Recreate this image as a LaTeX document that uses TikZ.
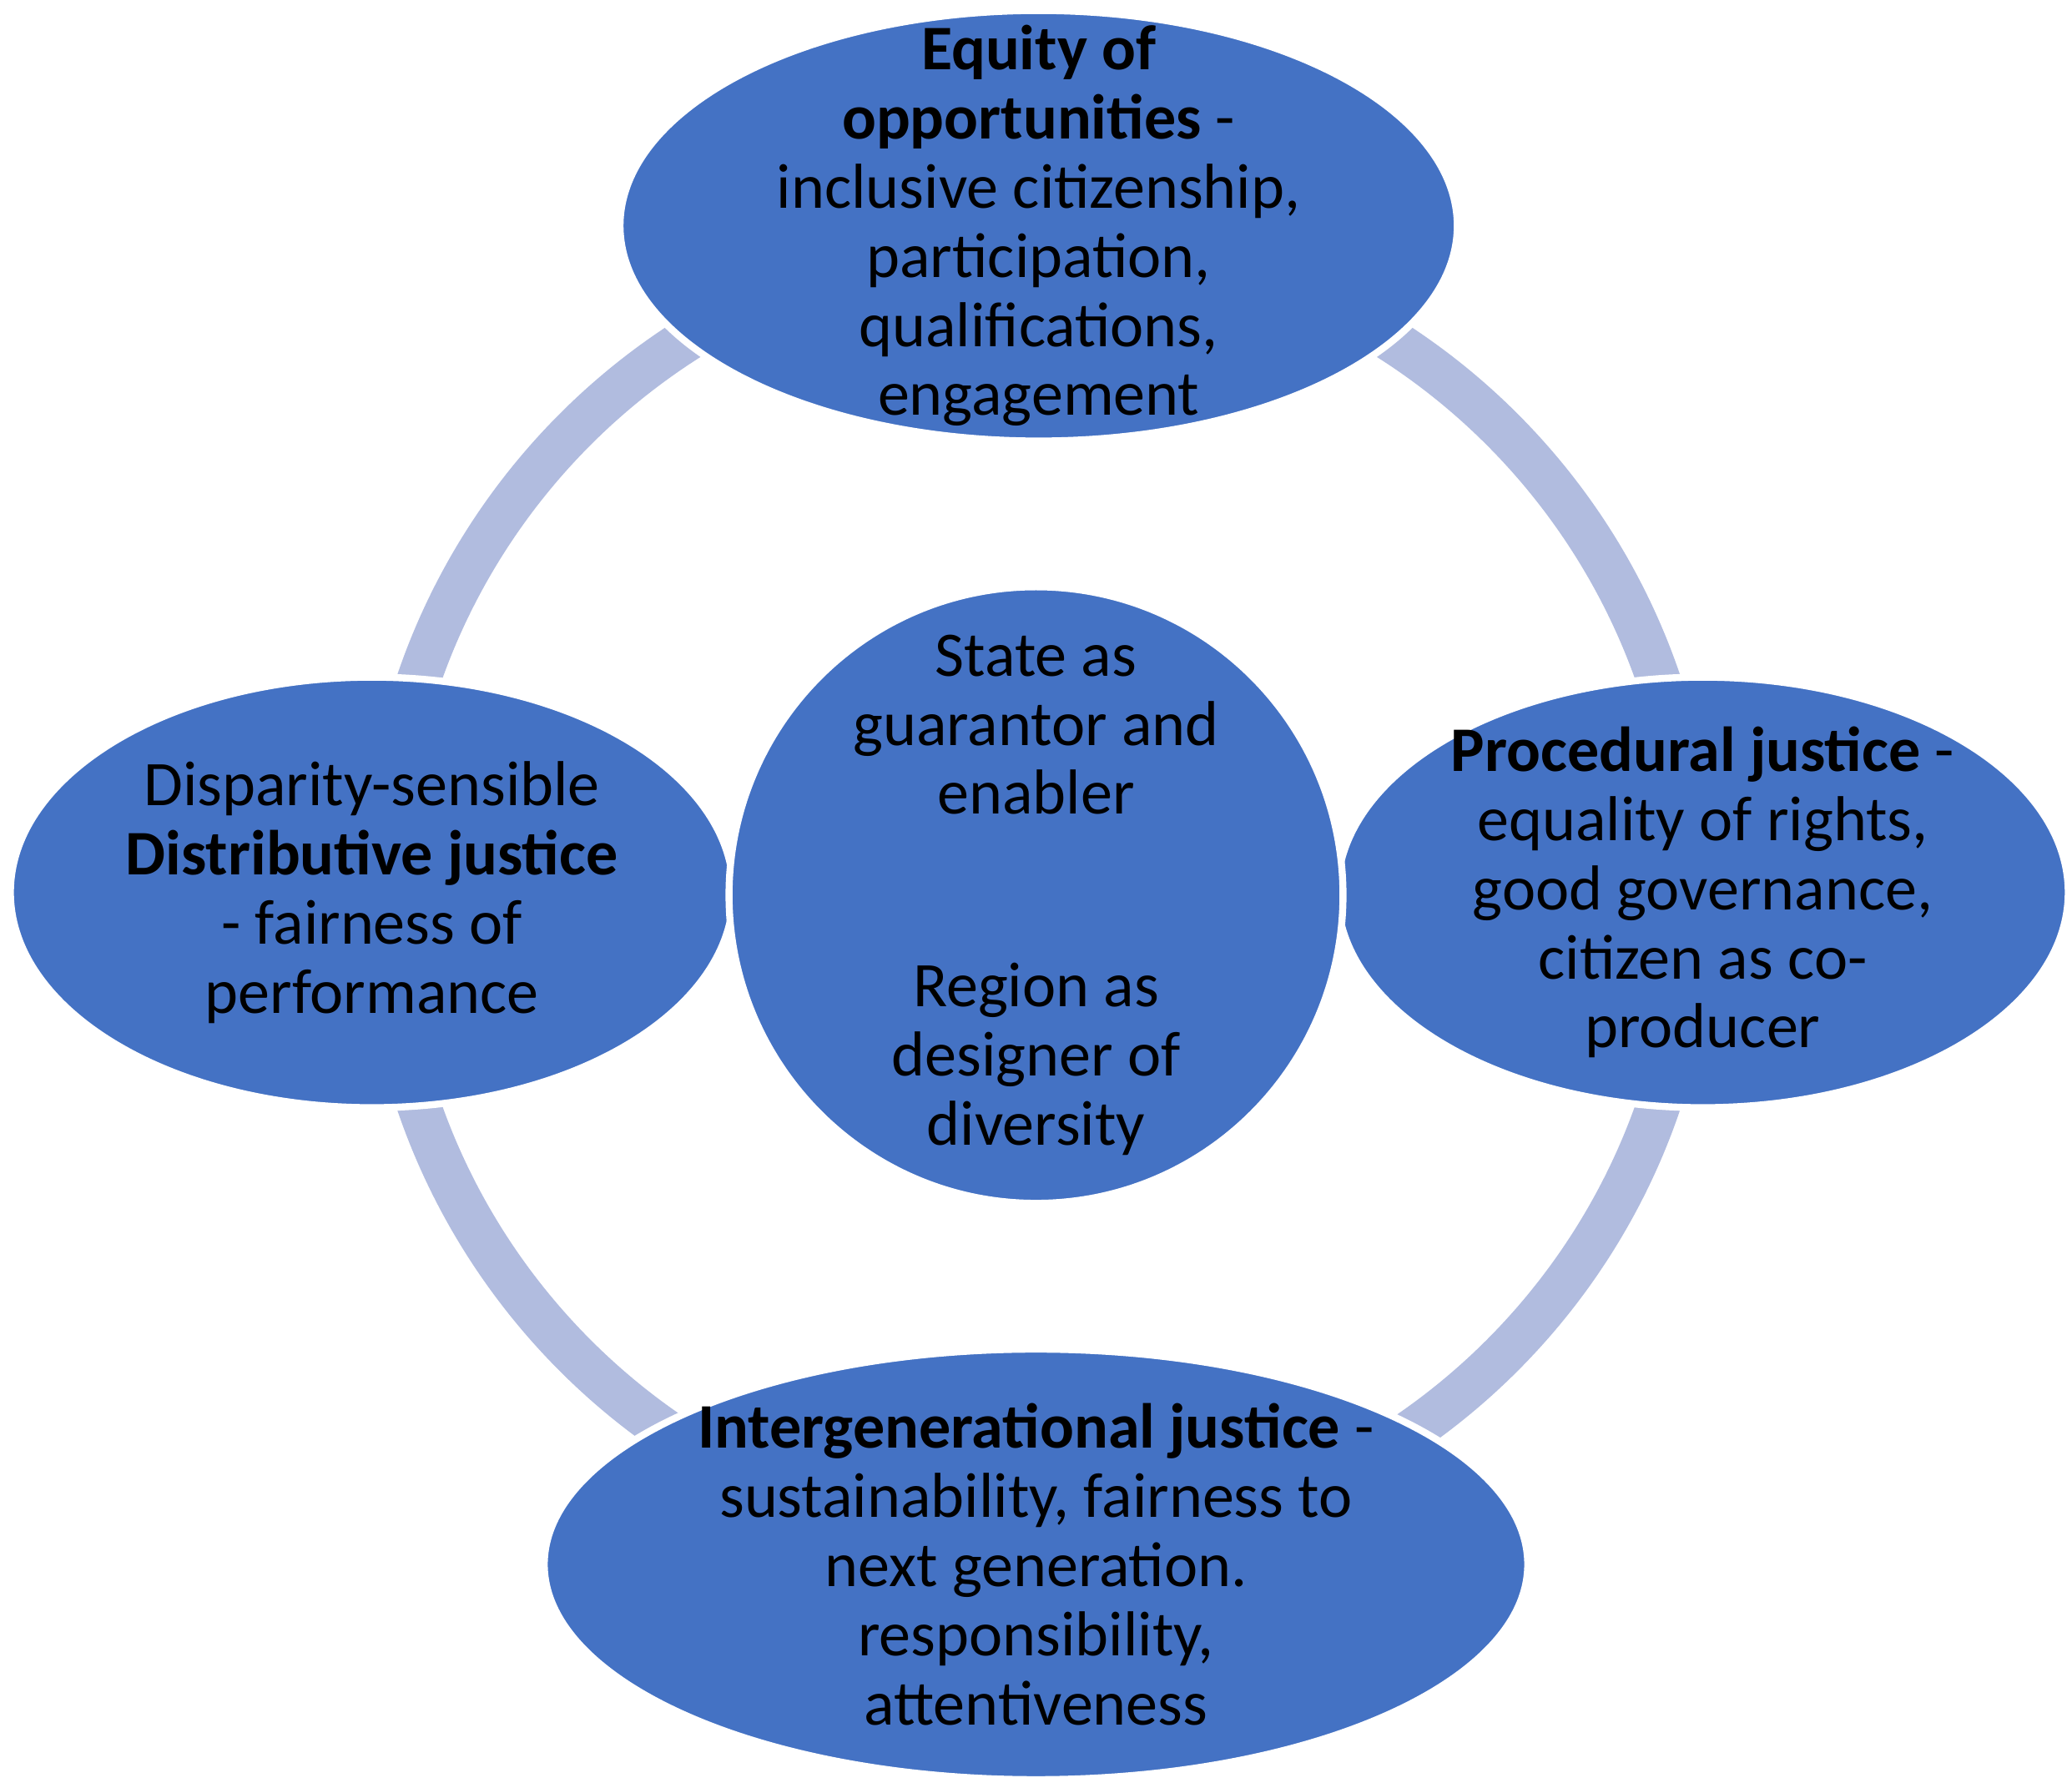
\documentclass[tikz,border=0pt]{standalone}
\usepackage{fontspec}
\setmainfont{Carlito}
\usetikzlibrary{shapes.geometric}
\definecolor{fillb}{HTML}{4472C4}
\definecolor{ringb}{HTML}{B1BCDF}
\begin{document}
\begin{tikzpicture}[x=0.01cm,y=-0.01cm,
  blob/.style={ellipse,fill=fillb,draw=white,line width=1.5pt,inner sep=0pt},
  lbl/.style={align=center,inner sep=0pt,font=\fontsize{13.6}{14.8}\selectfont,text=black}]
\useasboundingbox (0,0) rectangle (1560,1346);
\draw[ringb,line width=0.33cm] (782,672) circle (4.93cm);
\node[blob,minimum width=6.3cm,minimum height=3.24cm] (top) at (782,170) {};
\node[blob,minimum width=5.44cm,minimum height=3.24cm] (left) at (280,672) {};
\node[blob,minimum width=5.5cm,minimum height=3.24cm] (right) at (1282,672) {};
\node[blob,minimum width=7.4cm,minimum height=3.24cm] (bot) at (780,1178) {};
\node[blob,minimum width=4.62cm,minimum height=4.64cm] (mid) at (780,674) {};
\node[lbl] (ttop) at (top.center) {\textbf{Equity of}\\\textbf{opportunities} -\\inclusive citizenship,\\participation,\\qualifications,\\engagement};
\node[lbl] (tleft) at (left.center) {Disparity-sensible\\\textbf{Distributive justice}\\- fairness of\\performance};
\node[lbl] (tright) at (right.center) {\textbf{Procedural justice} -\\equality of rights,\\good governance,\\citizen as co-\\producer};
\node[lbl] (tbot) at (bot.center) {\textbf{Intergenerational justice} -\\sustainability, fairness to\\next generation.\\responsibility,\\attentiveness};
\node[lbl] (tmid) at (mid.center) {State as\\guarantor and\\enabler\\[0.93cm]Region as\\designer of\\diversity};
\end{tikzpicture}
\end{document}
